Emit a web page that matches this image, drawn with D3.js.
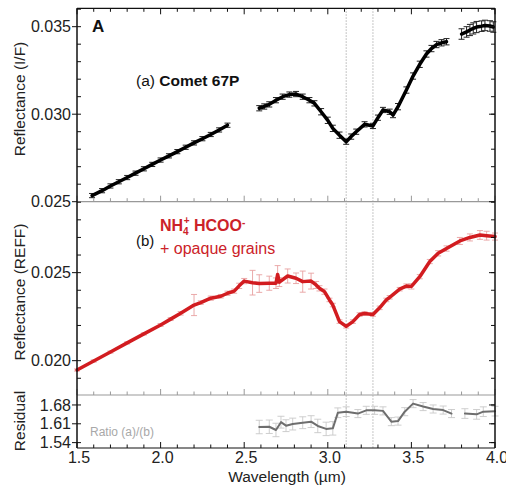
<!DOCTYPE html>
<html><head><meta charset="utf-8">
<script src="https://cdn.jsdelivr.net/npm/d3@7"></script>
<style>
html,body{margin:0;padding:0;background:#fff;}
svg{display:block;font-family:"Liberation Sans",Arial,sans-serif;}
</style></head>
<body><svg id="c" width="506" height="486"></svg>
<script>
// ---- data ----
const cometWl = [1.59,1.65,1.70,1.75,1.80,1.85,1.90,1.95,2.00,2.05,2.10,2.15,2.20,2.25,2.30,2.35,2.40,2.50,
  2.59,2.62,2.65,2.69,2.73,2.77,2.81,2.85,2.89,2.92,2.96,3.00,3.03,3.07,3.11,3.14,3.17,3.22,3.27,3.30,3.33,3.37,3.39,3.42,3.47,3.51,3.55,3.59,3.62,3.65,3.68,3.71,3.75,
  3.80,3.83,3.85,3.87,3.89,3.92,3.94,3.97,3.99];
const cometRefl = [0.02535,0.02563,0.02590,0.02614,0.02638,0.02663,0.02688,0.02713,0.02738,0.02762,0.02786,0.02811,0.02836,0.02860,0.02884,0.02910,0.02937,null,
  0.03034,0.03044,0.03056,0.03080,0.03100,0.03112,0.03115,0.03100,0.03080,0.03062,0.03014,0.02965,0.02919,0.02880,0.02843,0.02872,0.02900,0.02942,0.02933,0.02980,0.03024,0.03014,0.02995,0.03043,0.03138,0.03218,0.03285,0.03344,0.03375,0.03398,0.03408,0.03414,null,
  0.03458,0.03470,0.03481,0.03490,0.03498,0.03503,0.03507,0.03504,0.03498];
const cometErr = [0.00012,0.00012,0.00012,0.00012,0.00012,0.00012,0.00012,0.00012,0.00012,0.00012,0.00012,0.00012,0.00012,0.00012,0.00012,0.00012,0.00012,0,
  0.00015,0.00015,0.00015,0.00015,0.00015,0.00015,0.00015,0.00015,0.00015,0.00015,0.00018,0.00018,0.00018,0.00018,0.00015,0.00015,0.00015,0.00015,0.00015,0.00015,0.00015,0.00015,0.00015,0.00018,0.00018,0.00018,0.00018,0.00018,0.00018,0.00018,0.00018,0.00018,0,
  0.00030,0.00030,0.00032,0.00032,0.00032,0.00030,0.00030,0.00030,0.00030];

const labWl = [1.50,1.60,1.70,1.80,1.90,2.00,2.06,2.12,2.20,2.24,2.30,2.36,2.40,2.44,2.47,2.50,2.55,2.59,2.65,2.69,2.70,2.71,2.76,2.81,2.85,2.90,2.93,2.95,2.98,3.01,3.03,3.07,3.11,3.15,3.19,3.22,3.27,3.31,3.35,3.37,3.43,3.47,3.50,3.55,3.61,3.66,3.71,3.79,3.85,3.91,3.95,4.00];
const labRefl = [0.01947,0.01998,0.02049,0.02101,0.02152,0.02203,0.02236,0.02269,0.02316,0.02330,0.02355,0.02366,0.02383,0.02395,0.02425,0.02452,0.02443,0.02438,0.02440,0.02440,0.02490,0.02446,0.02481,0.02468,0.02449,0.02452,0.02430,0.02411,0.02392,0.02345,0.02316,0.02222,0.02195,0.02222,0.02262,0.02268,0.02262,0.02300,0.02345,0.02360,0.02406,0.02424,0.02422,0.02477,0.02563,0.02610,0.02637,0.02680,0.02700,0.02714,0.02710,0.02705];
const labErr = [0.00006,0.00006,0.00006,0.00006,0.00006,0.00008,0.00008,0.00010,0.00060,0.00010,0.00012,0.00010,0.00012,0.00012,0.00015,0.00015,0.00070,0.00050,0.00040,0.00030,0.00050,0.00025,0.00040,0.00030,0.00060,0.00045,0.00020,0.00015,0.00015,0.00010,0.00010,0.00010,0.00010,0.00010,0.00010,0.00010,0.00010,0.00010,0.00010,0.00010,0.00010,0.00012,0.00015,0.00012,0.00012,0.00015,0.00015,0.00020,0.00020,0.00025,0.00025,0.00020];

const ratioWl = [2.59,2.65,2.69,2.72,2.75,2.79,2.85,2.90,2.94,2.99,3.03,3.06,3.11,3.18,3.23,3.28,3.33,3.38,3.42,3.46,3.51,3.57,3.63,3.69,3.74,3.78,3.82,3.89,3.93,4.00];
const ratioVal = [1.598,1.599,1.587,1.616,1.603,1.609,1.614,1.618,1.602,1.591,1.593,1.651,1.655,1.648,1.660,1.660,1.658,1.618,1.620,1.655,1.685,1.674,1.665,1.661,1.648,null,1.648,1.645,1.655,1.657];
const ratioErr = [0.025,0.025,0.025,0.022,0.022,0.022,0.022,0.022,0.025,0.025,0.025,0.018,0.018,0.015,0.015,0.015,0.015,0.015,0.015,0.015,0.015,0.015,0.015,0.015,0.015,0,0.018,0.018,0.018,0.018];

const xTicks = [1.5,2.0,2.5,3.0,3.5,4.0];
const topTicks = [0.025,0.030,0.035];
const midTicks = [0.020,0.025];
const botTicks = [1.54,1.61,1.68];
const bandLines = [3.11,3.27];

// ---- layout ----
const svg = d3.select("#c");
const L = 77, R = 495;
const x = d3.scaleLinear([1.5,4.0],[L,R]);
const yTop = d3.scaleLinear([0.025,0.03605],[201.7,8.3]);
const yMid = d3.scaleLinear([0.01805,0.02903],[395,201.7]);
const yBot = d3.scaleLinear([1.52,1.717],[448,395]);
const tickFont = 16;

// vertical dotted lines
bandLines.forEach(b => {
  svg.append("line").attr("x1",x(b)).attr("x2",x(b)).attr("y1",8.3).attr("y2",448)
    .attr("stroke","#aaa").attr("stroke-width",0.9).attr("stroke-dasharray","1.5,1.5");
});

function errBars(g, wl, val, err, y, color, w, sw){
  const d = wl.map((l,i)=>({l, v:val[i], e:err[i]})).filter(d=>d.v!=null);
  const gg = g.append("g").attr("stroke",color).attr("stroke-width",sw).attr("fill","none");
  d.forEach(p=>{
    const xx = x(p.l), y1 = y(p.v - p.e), y2 = y(p.v + p.e);
    gg.append("line").attr("x1",xx).attr("x2",xx).attr("y1",y1).attr("y2",y2);
    gg.append("line").attr("x1",xx-w).attr("x2",xx+w).attr("y1",y1).attr("y2",y1);
    gg.append("line").attr("x1",xx-w).attr("x2",xx+w).attr("y1",y2).attr("y2",y2);
  });
}
function drawLine(wl, val, y, color, width){
  const d = wl.map((l,i)=>({l, v:val[i]}));
  svg.append("path").datum(d)
    .attr("d", d3.line().defined(p=>p.v!=null).x(p=>x(p.l)).y(p=>y(p.v)))
    .attr("fill","none").attr("stroke",color).attr("stroke-width",width)
    .attr("stroke-linejoin","round").attr("stroke-linecap","round");
}

// series
errBars(svg, cometWl, cometRefl, cometErr, yTop, "#222", 3, 1);
drawLine(cometWl, cometRefl, yTop, "#000", 3.5);
errBars(svg, labWl, labRefl, labErr, yMid, "#e8a0a0", 3, 0.9);
drawLine(labWl, labRefl, yMid, "#d21c20", 3.5);
errBars(svg, ratioWl, ratioVal, ratioErr, yBot, "#c8c8c8", 3.5, 0.9);
drawLine(ratioWl, ratioVal, yBot, "#6e6e6e", 2);

// ---- axes ----
function tickRow(yPos, dir, color){ // dir: -1 up, +1 down
  const minor = d3.range(15,41).map(v=>v/10);
  const g = svg.append("g").attr("stroke",color).attr("stroke-width",1);
  minor.forEach(v=>{
    const major = Math.abs(v*2 - Math.round(v*2))<1e-6;
    const len = major ? 6 : 3.5;
    g.append("line").attr("x1",x(v)).attr("x2",x(v)).attr("y1",yPos).attr("y2",yPos+dir*len);
  });
  svg.append("line").attr("x1",L).attr("x2",R).attr("y1",yPos).attr("y2",yPos).attr("stroke",color).attr("stroke-width",1.2);
}
tickRow(8.3, 1, "#111");
tickRow(201.7, -1, "#999");
tickRow(395, -1, "#999");
tickRow(448, -1, "#111");

function yAxis(scale, majors, minorStep, fmt, lo, hi){
  const g = svg.append("g");
  const minors = d3.range(Math.ceil(lo/minorStep-1e-6), Math.floor(hi/minorStep+1e-6)+1).map(k=>k*minorStep);
  minors.forEach(v=>{
    const yy = scale(v);
    g.append("line").attr("x1",L).attr("x2",L+4).attr("y1",yy).attr("y2",yy).attr("stroke","#111");
    g.append("line").attr("x1",R).attr("x2",R-4).attr("y1",yy).attr("y2",yy).attr("stroke","#111");
  });
  majors.forEach(v=>{
    const yy = scale(v);
    g.append("line").attr("x1",L-5).attr("x2",L).attr("y1",yy).attr("y2",yy).attr("stroke","#111");
    g.append("line").attr("x1",R-6).attr("x2",R).attr("y1",yy).attr("y2",yy).attr("stroke","#111");
    g.append("text").attr("x",L-6).attr("y",yy).attr("dy","0.35em").attr("text-anchor","end")
      .attr("font-size",tickFont).attr("fill","#222").text(d3.format(fmt)(v));
  });
}
yAxis(yTop, topTicks, 0.001, ".3f", 0.0255, 0.0360);
yAxis(yMid, midTicks, 0.001, ".3f", 0.0185, 0.0290);
yAxis(yBot, botTicks, 0.07, ".2f", 1.54, 1.68);

// frame
svg.append("line").attr("x1",L).attr("x2",L).attr("y1",8.3).attr("y2",448).attr("stroke","#111").attr("stroke-width",1.5);
svg.append("line").attr("x1",R).attr("x2",R).attr("y1",8.3).attr("y2",448).attr("stroke","#111").attr("stroke-width",1.5);

// x tick labels
xTicks.forEach(v=>{
  svg.append("text").attr("x",x(v)+2).attr("y",463).attr("text-anchor","middle")
    .attr("font-size",tickFont).attr("fill","#222").text(d3.format(".1f")(v));
});

// axis titles
svg.append("text").attr("x",287).attr("y",482).attr("text-anchor","middle").attr("font-size",15.5).attr("fill","#222").text("Wavelength (µm)");
function yTitle(t, cy){
  svg.append("text").attr("transform",`translate(25,${cy}) rotate(-90)`).attr("text-anchor","middle")
    .attr("font-size",15.5).attr("fill","#222").text(t);
}
yTitle("Reflectance (I/F)", 99);
yTitle("Reflectance (REFF)", 292);
yTitle("Residual", 421);

// annotations
svg.append("text").attr("x",92).attr("y",32).attr("font-size",17).attr("font-weight","bold").attr("fill","#111").text("A");
const ta = svg.append("text").attr("x",136).attr("y",86).attr("font-size",15.5).attr("fill","#111");
ta.append("tspan").text("(a) ");
ta.append("tspan").attr("font-weight","bold").text("Comet 67P");
svg.append("text").attr("x",136).attr("y",246).attr("font-size",15).attr("fill","#111").text("(b)");
const tb = svg.append("text").attr("x",160).attr("y",231).attr("font-size",16).attr("font-weight","bold").attr("fill","#cc2229");
tb.append("tspan").text("NH");
tb.append("tspan").attr("font-size",10).attr("dy",4).text("4");
tb.append("tspan").attr("font-size",10).attr("dy",-11).attr("dx",-5).text("+");
tb.append("tspan").attr("dy",7).text(" HCOO");
tb.append("tspan").attr("font-size",10).attr("dy",-5).text("-");
svg.append("text").attr("x",160).attr("y",254).attr("font-size",16).attr("fill","#cc2229").text("+ opaque grains");
svg.append("text").attr("x",90).attr("y",436).attr("font-size",12).attr("fill","#a8a8a8").text("Ratio (a)/(b)");
</script></body></html>
